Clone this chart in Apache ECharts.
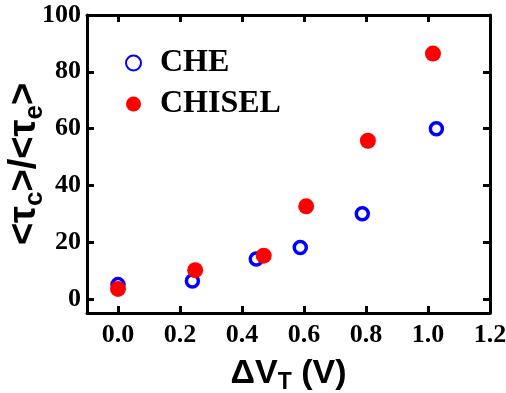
<!DOCTYPE html>
<html lang="en">
	<head>
		<meta charset="UTF-8" />
		<title>tau ratio vs dVT</title>
		<style>
			body { margin: 0; background: #fff; }
		</style>
	</head>
	<body>
		<div id="main" style="width: 506px; height: 393px"></div>
		<script src="https://cdn.jsdelivr.net/npm/echarts@6/dist/echarts.min.js"></script>
		<script>
			// data
			var cheX = [0.0, 0.24, 0.446, 0.588, 0.788, 1.027];
			var cheY = [5.0, 6.3, 14.0, 18.1, 30.0, 59.9];
			var chiselX = [0.0, 0.249, 0.47, 0.607, 0.806, 1.016];
			var chiselY = [3.5, 10.1, 15.2, 32.6, 55.7, 86.4];
			var xTicks = [0, 0.2, 0.4, 0.6, 0.8, 1.0, 1.2];
			var yTicks = [0, 20, 40, 60, 80, 100];

			var myChart = echarts.init(document.getElementById("main"));

			function pairs(xs, ys) {
				return xs.map(function (x, i) {
					return [x, ys[i]];
				});
			}

			var serif = "'Liberation Serif', 'Times New Roman', serif";
			var sans = "'Liberation Sans', Arial, sans-serif";
			var lineStyle = { color: "#000", width: 3 };
			var tickStyle = { color: "#000", width: 3 };

			function xAxis(pos, showLabel) {
				return {
					type: "value",
					position: pos,
					min: -0.1,
					max: 1.2,
					splitLine: { show: false },
					axisLine: { show: true, onZero: false, lineStyle: lineStyle },
					axisTick: { inside: true, length: 7, lineStyle: tickStyle, customValues: xTicks },
					axisLabel: {
						show: showLabel,
						customValues: xTicks,
						margin: 9,
						fontFamily: serif,
						fontWeight: "bold",
						fontSize: 26,
						color: "#000",
						formatter: function (v) {
							return v.toFixed(1);
						},
					},
				};
			}

			function yAxis(pos, showLabel) {
				return {
					type: "value",
					position: pos,
					min: -5,
					max: 100,
					splitLine: { show: false },
					axisLine: { show: true, onZero: false, lineStyle: lineStyle },
					axisTick: { inside: true, length: 7, lineStyle: tickStyle, customValues: yTicks },
					axisLabel: {
						show: showLabel,
						customValues: yTicks,
						margin: 6,
						fontFamily: serif,
						fontWeight: "bold",
						fontSize: 26,
						color: "#000",
					},
				};
			}

			var bottomX = xAxis("bottom", true);
			bottomX.name = "{a|ΔV}{s|T}{a| (V)}";
			bottomX.nameLocation = "middle";
			bottomX.nameGap = 40;
			bottomX.nameTextStyle = {
				rich: {
					a: { fontFamily: sans, fontWeight: "bold", fontSize: 34, color: "#000" },
					s: { fontFamily: sans, fontWeight: "bold", fontSize: 23, color: "#000", padding: [18, 0, 0, 0] },
				},
			};

			var leftY = yAxis("left", true);
			leftY.name = "{a|<τ}{s|c}{a|>/<τ}{s|e}{a|>}";
			leftY.nameLocation = "middle";
			leftY.nameRotate = 90;
			leftY.nameGap = 39;
			leftY.nameMoveOverlap = false;
			leftY.nameTextStyle = {
				rich: {
					a: { fontFamily: sans, fontWeight: "bold", fontSize: 38, color: "#000" },
					s: { fontFamily: sans, fontWeight: "bold", fontSize: 26, color: "#000", padding: [20, 0, 0, 0] },
				},
			};

			var option = {
				animation: false,
				grid: { left: 87, right: 16, top: 15, bottom: 80, containLabel: false, outerBoundsMode: "none" },
				legend: {
					orient: "vertical",
					left: 120,
					top: 42,
					itemWidth: 15,
					itemHeight: 15,
					itemGap: 9,
					textStyle: {
						fontFamily: serif,
						fontWeight: "bold",
						fontSize: 32,
						color: "#000",
						padding: [0, 0, 0, 14],
					},
					data: ["CHE", "CHISEL"],
				},
				xAxis: [bottomX, xAxis("top", false)],
				yAxis: [leftY, yAxis("right", false)],
				series: [
					{
						name: "CHE",
						type: "scatter",
						symbol: "circle",
						symbolSize: 12,
						itemStyle: { color: "#ffffff", borderColor: "#0000ff", borderWidth: 3.5, opacity: 1 },
						data: pairs(cheX, cheY),
					},
					{
						name: "CHISEL",
						type: "scatter",
						symbol: "circle",
						symbolSize: 16,
						itemStyle: { color: "#ff0000", opacity: 1 },
						data: pairs(chiselX, chiselY),
					},
				],
			};

			myChart.setOption(option);
		</script>
	</body>
</html>
